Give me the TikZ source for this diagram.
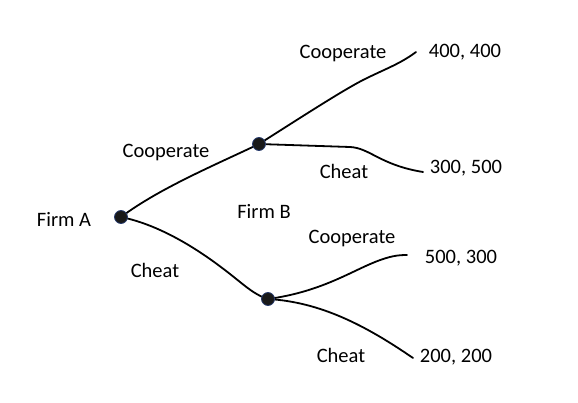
\documentclass[tikz,border=0pt]{standalone}
\usepackage{fontspec}
\setmainfont{Carlito}
\begin{document}
\begin{tikzpicture}[x=1pt,y=-1pt,
  dot/.style={circle,fill=black!90,draw={rgb,255:red,40;green,60;blue,110},line width=0.8pt,minimum size=13pt,inner sep=0pt},
  branch/.style={line width=1.8pt,line cap=round,line join=round},
  lbl/.style={font=\fontsize{20.5}{24}\selectfont,inner sep=0pt}]
\useasboundingbox (0,0) rectangle (578,403);
% decision nodes
\coordinate (A) at (121,217);
\coordinate (B1) at (259,144);
\coordinate (B2) at (268,299);
% payoff ends
\coordinate (E1) at (416,52);
\coordinate (E2) at (423,172);
\coordinate (E3) at (407,255);
\coordinate (E4) at (413,358);
% branches
\draw[branch] (A) .. controls (160,188) and (215,165) .. (B1);
\draw[branch] (A) .. controls (175,228) and (225,270) .. (240,282) .. controls (250,290) and (258,296) .. (B2);
\draw[branch] (B1) .. controls (300,118) and (340,92) .. (363,80) .. controls (385,69) and (400,64) .. (E1);
\draw[branch] (B1) -- (350,147) .. controls (370,148) and (380,165) .. (E2);
\draw[branch] (B2) .. controls (320,292) and (350,272) .. (375,262) .. controls (390,256) and (398,255) .. (E3);
\draw[branch] (B2) .. controls (320,302) and (365,325) .. (E4);
% dots
\node[dot] (nA) at (A) {};
\node[dot] (nB1) at (B1) {};
\node[dot] (nB2) at (B2) {};
% labels
\node[lbl] (firmA) at (64,219) {Firm A};
\node[lbl] (firmB) at (264,211) {Firm B};
\node[lbl] (c1) at (166,153) {Cooperate};
\node[lbl] (h1) at (155,270) {Cheat};
\node[lbl] (c2) at (343,54) {Cooperate};
\node[lbl] (h2) at (344,171) {Cheat};
\node[lbl] (c3) at (352,239) {Cooperate};
\node[lbl] (h3) at (341,355) {Cheat};
\node[lbl] (p1) at (465,52) {400, 400};
\node[lbl] (p2) at (466,168) {300, 500};
\node[lbl] (p3) at (461,258) {500, 300};
\node[lbl] (p4) at (456,357) {200, 200};
\end{tikzpicture}
\end{document}
